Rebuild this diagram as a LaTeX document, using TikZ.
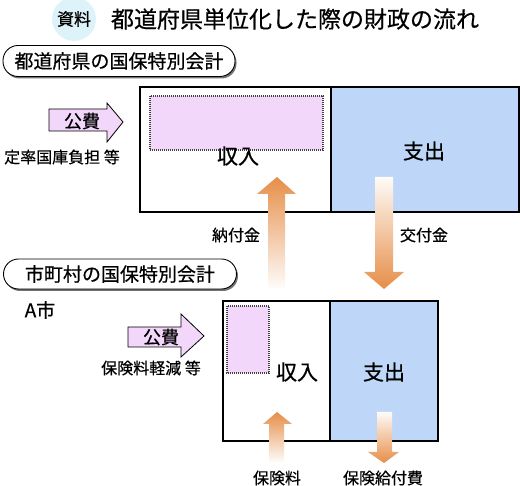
\documentclass[tikz,border=0pt]{standalone}
\usepackage{fontspec}
\setmainfont{Noto Sans CJK JP}[FakeBold=0.5]
\usetikzlibrary{shadows}
\definecolor{flow}{RGB}{230,142,72}
\definecolor{lilac}{RGB}{242,215,250}
\definecolor{paleblue}{RGB}{190,215,249}
\definecolor{mist}{RGB}{222,242,250}
\tikzset{
	tag/.style = {draw, line width=0.9pt, fill=white, rounded corners=15pt, inner sep=0pt,
		drop shadow={opacity=1, fill=black!55, shadow xshift=1.5pt, shadow yshift=-2pt},
		font=\fontsize{19}{19}\selectfont},
	txt/.style = {inner sep=0pt, font=\fontsize{16}{16}\selectfont},
	big/.style = {inner sep=0pt, font=\fontsize{21}{21}\selectfont},
	gift/.style = {draw, line width=0.8pt, fill=lilac},
	share/.style = {draw=black!75, dash pattern=on 1pt off 1pt, line width=1.2pt, fill=lilac},
	upflow/.style = {top color=flow, middle color=flow!70, bottom color=flow!3},
	downflow/.style = {top color=flow!3, middle color=flow!70, bottom color=flow}
}
\begin{document}
\begin{tikzpicture} [x = 1pt, y = -1pt]
	\useasboundingbox (0,0) rectangle (520,486);
	% title
	\fill [mist] (74,19) circle (22);
	\node [inner sep=0pt, font=\fontsize{17}{17}\selectfont] (mark) at (74,19) {資料};
	\node [inner sep=0pt, font=\fontsize{23}{23}\selectfont] (title) at (295,19) {都道府県単位化した際の財政の流れ};
	% prefecture account
	\node [tag, minimum width=232pt, minimum height=31pt] (preftag) at (119,61) {都道府県の国保特別会計};
	\fill [white] (140,87) rectangle (331,212);
	\fill [paleblue] (331,87) rectangle (519,212);
	\draw [share] (150,96) rectangle (323,150);
	\draw [line width=1.6pt] (140,87) rectangle (519,212);
	\draw [line width=1.3pt] (331,87) -- (331,212);
	\node [big] (prefin) at (238,156) {収入};
	\node [big] (prefout) at (424,151) {支出};
	\draw [gift] (49,109) -- (107,109) -- (107,103) -- (123,122) -- (107,142) -- (107,131) -- (49,131) -- cycle;
	\node [inner sep=0pt, font=\fontsize{18}{18}\selectfont] (prefpub) at (82,121) {公費};
	\node [txt] (prefnote) at (62,157) {定率国庫負担 等};
	% flows between the accounts
	\shade [upflow] (277,177) -- (296,194) -- (285,194) -- (285,288) -- (268,288) -- (268,194) -- (257,194) -- cycle;
	\shade [downflow] (375,177) -- (393,177) -- (393,272) -- (404,272) -- (384,289) -- (364,272) -- (375,272) -- cycle;
	\node [txt] (levy) at (236,235) {納付金};
	\node [txt] (grant) at (424,235) {交付金};
	% city account
	\node [tag, minimum width=233pt, minimum height=30pt] (citytag) at (120,274) {市町村の国保特別会計};
	\node [inner sep=0pt, font=\fontsize{19}{19}\selectfont] (city) at (40,310) {A市};
	\fill [white] (223,301) rectangle (330,441);
	\fill [paleblue] (330,301) rectangle (438,441);
	\draw [share] (227,306) rectangle (269,373);
	\draw [line width=1.6pt] (223,301) rectangle (438,441);
	\draw [line width=1.3pt] (330,301) -- (330,441);
	\node [big] (cityin) at (297,372) {収入};
	\node [big] (cityout) at (384,372) {支出};
	\draw [gift] (128,327) -- (181,327) -- (181,314) -- (204,336) -- (181,357) -- (181,347) -- (128,347) -- cycle;
	\node [inner sep=0pt, font=\fontsize{18}{18}\selectfont] (citypub) at (161,337) {公費};
	\node [txt] (citynote) at (151,368) {保険料軽減 等};
	\shade [upflow] (277,412) -- (292,424) -- (284,424) -- (284,462) -- (269,462) -- (269,424) -- (263,424) -- cycle;
	\shade [downflow] (377,412) -- (392,412) -- (392,452) -- (399,452) -- (384,463) -- (368,452) -- (377,452) -- cycle;
	\node [txt] (premium) at (277,478) {保険料};
	\node [txt] (benefit) at (383,478) {保険給付費};
\end{tikzpicture}
\end{document}
